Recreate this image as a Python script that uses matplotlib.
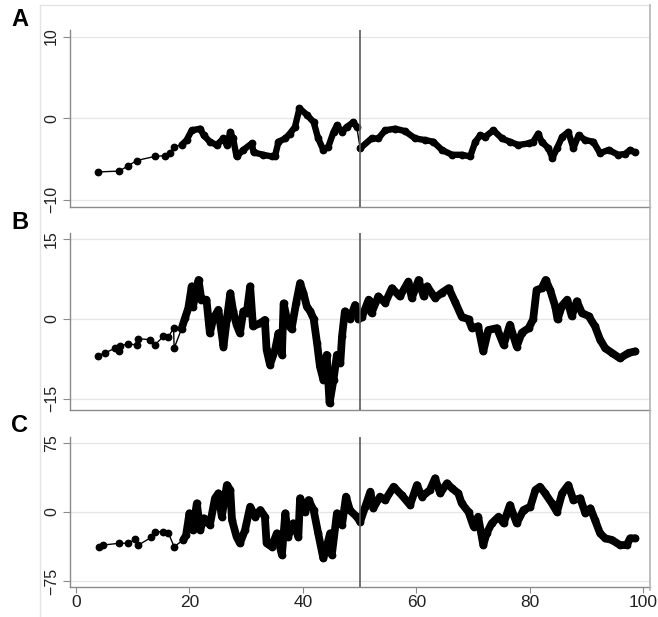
import numpy as np
import matplotlib
matplotlib.use('Agg')
import matplotlib.pyplot as plt
from matplotlib.lines import Line2D

plt.rcParams['font.family'] = ['Liberation Sans', 'DejaVu Sans']

# panel A
a_x = [3.9, 7.6, 9.2, 10.7, 13.9, 15.7, 16.6, 17.3, 18.6, 19.5, 20.4, 21.9, 22.5, 23.6, 24.8, 26.0,
       26.6, 27.2, 27.7, 28.3, 29.5, 31.0, 31.3, 33.0, 34.5, 35.1, 35.7, 36.9, 37.7, 38.6, 39.4, 40.7,
       41.9, 42.7, 43.6, 44.5, 45.4, 46.0, 46.9, 47.7, 48.9, 49.5, 50.1, 52.1, 53.3, 54.5, 56.3, 58.0,
       59.8, 61.6, 63.0, 64.5, 66.3, 68.0, 69.5, 70.4, 71.3, 72.1, 73.6, 75.1, 76.5, 78.0, 79.8, 80.6,
       81.5, 82.1, 83.3, 84.0, 84.8, 85.7, 86.8, 87.7, 88.6, 89.8, 91.2, 92.4, 93.9, 95.6, 96.8, 97.7, 98.5]
a_y = [-6.6, -6.5, -5.85, -5.2, -4.7, -4.6, -4.3, -3.5, -3.3, -2.7, -1.5, -1.3, -2.1, -2.9, -3.3, -2.5,
       -3.3, -1.7, -2.5, -4.7, -3.9, -3.1, -4.2, -4.5, -4.7, -4.6, -2.9, -2.5, -1.9, -1.1, 1.2, 0.4,
       -0.5, -2.5, -3.9, -3.5, -1.7, -0.9, -1.7, -1.1, -0.5, -1.1, -3.7, -2.5, -2.5, -1.5, -1.3, -1.6,
       -2.5, -2.7, -2.9, -3.9, -4.5, -4.5, -4.7, -2.9, -2.1, -2.3, -1.5, -2.5, -2.9, -3.3, -3.1, -2.9,
       -1.9, -2.9, -3.7, -4.9, -3.7, -2.3, -1.7, -3.7, -2.1, -2.7, -2.9, -4.3, -3.9, -4.5, -4.4, -3.9, -4.2]

# panel B
b_x = [3.9, 5.1, 6.9, 7.6, 7.7, 9.2, 10.7, 11.0, 13.1, 13.9,
       15.4, 16.3, 17.2, 17.3, 18.6, 19.2, 19.8, 20.4, 20.6, 21.6,
       22.1, 23.0, 23.6, 24.2, 25.1, 26.0, 26.6, 27.2, 27.7, 28.3,
       28.9, 29.5, 30.1, 30.7, 31.2, 32.5, 33.3, 33.6, 34.2, 35.1,
       35.7, 36.3, 36.6, 37.4, 38.0, 38.8, 39.5, 40.1, 40.7, 41.3,
       41.9, 42.5, 43.0, 43.6, 44.2, 44.7, 45.4, 46.0, 46.6, 46.9,
       47.4, 48.3, 49.2, 49.8, 50.4, 51.6, 52.1, 53.3, 54.5, 55.7,
       57.1, 58.6, 59.2, 60.4, 61.3, 61.9, 63.3, 64.5, 65.7, 66.8,
       68.0, 69.2, 69.8, 70.9, 71.8, 72.7, 74.2, 75.4, 76.5, 77.7,
       78.6, 79.8, 80.6, 81.2, 82.1, 82.8, 83.6, 84.5, 84.9, 85.7,
       86.6, 87.4, 88.3, 89.2, 90.4, 91.5, 92.4, 93.3, 94.5, 95.9,
       97.4, 98.6]
b_y = [-6.9, -6.4, -5.5, -6.1, -5.1, -4.7, -4.9, -3.75, -3.9, -4.9,
       -3.3, -3.4, -1.75, -5.5, -1.9, 0.1, 2.0, 6.1, 2.2, 7.3,
       3.6, 3.6, -2.7, 0.0, 1.7, -5.2, 0.0, 4.8, 1.5, -1.1,
       -2.7, 1.4, 1.1, 6.1, -1.4, -0.8, -0.2, -5.8, -8.6, -5.8,
       -2.7, -6.75, 2.9, -1.1, -1.9, 2.9, 6.7, 4.8, 2.3, 1.4,
       0.0, -4.6, -8.9, -11.4, -6.75, -15.8, -11.4, -6.75, -8.3, -3.3,
       1.4, 0.0, 2.6, 0.0, 0.3, 3.6, 1.1, 4.2, 3.0, 5.75,
       4.2, 7.0, 3.9, 7.3, 4.2, 6.1, 3.9, 4.9, 5.75, 3.25,
       0.4, -0.1, -1.75, -1.4, -6.1, -2.1, -1.75, -4.9, -1.1, -5.2,
       -2.6, -1.75, -0.1, 5.4, 5.75, 7.3, 5.4, 2.3, -0.1, 2.5,
       3.6, 0.5, 3.3, 1.1, 0.5, -1.4, -3.9, -5.5, -6.4, -7.4,
       -6.4, -6.1]

# panel C
c_x = [4.1, 4.8, 7.6, 9.2, 10.4, 11.0, 13.3, 13.9, 15.4, 16.3,
       17.3, 18.9, 19.4, 20.0, 20.6, 21.3, 21.9, 22.5, 23.6, 24.5,
       25.1, 25.7, 26.6, 27.2, 27.5, 28.3, 28.9, 29.8, 30.7, 31.6,
       32.5, 33.3, 33.6, 34.5, 35.4, 36.3, 36.9, 37.4, 38.3, 39.2,
       39.5, 40.4, 41.0, 41.9, 42.7, 43.6, 44.2, 44.8, 45.1, 46.0,
       46.9, 47.6, 48.3, 49.5, 50.1, 51.0, 51.9, 52.4, 53.6, 54.5,
       56.0, 57.4, 58.9, 60.1, 61.0, 62.4, 63.3, 64.2, 65.4, 66.3,
       67.4, 68.0, 69.2, 70.1, 70.9, 71.8, 72.4, 73.3, 74.5, 75.4,
       76.5, 77.7, 78.9, 80.1, 81.0, 81.8, 82.7, 83.9, 84.8, 85.7,
       86.8, 87.7, 88.9, 89.8, 90.7, 91.5, 92.4, 93.3, 94.5, 95.9,
       97.1, 97.7, 98.6]
c_y = [-37.7, -35.9, -34, -34, -29.7, -35.9, -27.5, -21.4, -21.4, -23.2,
       -37.7, -30.4, -25.4, -1.4, -19.6, 9.4, -19.6, -6.9, -14.1, 14.9,
       20.3, -5.1, 29.3, 23.9, -8.7, -26.8, -34, -19.6, 5.8, -5.1,
       2.2, -5.1, -34, -37.7, -23.2, -46.7, -1.4, -26.8, -12.3, -26.8,
       14.9, 0.0, 13.0, 1.8, -23.2, -50.3, -37.7, -23.2, -46.7, -1.4,
       -14.1, 16.7, 1.8, -5.1, -10.5, 5.8, 22.1, 4.0, 16.7, 12.9,
       27.5, 18.5, 7.6, 29.3, 16.7, 23.9, 36.6, 20.3, 31.2, 25.7,
       20.3, 9.4, 0.0, -15.9, -5.1, -35.9, -23.2, -12.3, -5.1, -12.3,
       7.6, -12.3, 2.2, 5.8, 23.9, 27.5, 20.3, 9.4, 0.0, 20.3,
       29.3, 12.9, 14.9, -1.4, 4.0, -8.7, -23.2, -28.6, -30.4, -35.9,
       -35.9, -28.6, -28.6]

panels = ['A', 'B', 'C']
yticks = [[-10, 0, 10], [-15, 0, 15], [-75, 0, 75]]
ylims = [(-10.9, 10.8), (-17.1, 16.1), (-81.5, 81.5)]
xticks = [0, 20, 40, 60, 80, 100]

W, H = 658, 617
fig = plt.figure(figsize=(W / 100, H / 100), dpi=100)

# axes boxes in pixels: top, bottom
boxes = [(30, 207), (233, 410), (437, 587)]
left, right = 70, 650
heavy = [4.6, 5.6, 5.6]

series = [(a_x, a_y), (b_x, b_y), (c_x, c_y)]
grid_c = '#e6e6e6'
axis_c = '#8a8a8a'

for i, (name, (xs, ys)) in enumerate(zip(panels, series)):
    top, bot = boxes[i]
    ax = fig.add_axes([left / W, 1 - bot / H, (right - left) / W, (bot - top) / H])
    xs = np.array(xs)
    ys = np.array(ys)

    # thin connecting line + markers for all observations
    ax.plot(xs, ys, color='black', lw=1.0, zorder=3)
    ax.plot(xs, ys, 'o', color='black', ms=4.6, mec='black', zorder=4)
    # dense part drawn as a heavy trace, split at the break year
    dense = xs >= 18.5
    for seg in (dense & (xs < 50), dense & (xs >= 50)):
        ax.plot(xs[seg], ys[seg], color='black', lw=heavy[i],
                solid_capstyle='round', solid_joinstyle='round', zorder=4)
    if i > 0:
        # B and C are continuous across the break
        j = np.where(xs < 50)[0][-1]
        ax.plot(xs[j:j + 2], ys[j:j + 2], color='black', lw=heavy[i],
                solid_capstyle='round', zorder=4)

    ax.axvline(50, color='#5a5a5a', lw=1.2, zorder=5)

    ax.set_xlim(-1.06, 101.2)
    ax.set_ylim(*ylims[i])
    ax.set_yticks(yticks[i])
    ax.set_yticklabels([str(t).replace('-', '\u2212') for t in yticks[i]],
                       rotation=90, va='center', fontsize=11.5, color='#222222')
    for yt in yticks[i]:
        ax.axhline(yt, color=grid_c, lw=1.0, zorder=1)

    for s in ['top', 'right']:
        ax.spines[s].set_visible(False)
    for s in ['left', 'bottom']:
        ax.spines[s].set_color(axis_c)
        ax.spines[s].set_linewidth(1.0)
    ax.tick_params(axis='y', length=5, color=axis_c, pad=3)
    if i == 2:
        ax.set_xticks(xticks)
        ax.set_xticklabels([str(t) for t in xticks], fontsize=12.5, color='#222222')
        ax.tick_params(axis='x', length=4, color=axis_c, pad=2)
    else:
        ax.set_xticks([])

    fig.text(20 / W, 1 - (top - 11) / H, name, ha='center', va='center',
             fontsize=17, fontweight='bold')

# outer frame of the combined graph
fig.add_artist(Line2D([40 / W, 40 / W], [1 - 5 / H, 0], color='#e4e4e4', lw=1.0))
fig.add_artist(Line2D([40 / W, 650 / W], [1 - 5 / H, 1 - 5 / H], color='#e4e4e4', lw=1.0))
fig.add_artist(Line2D([650 / W, 650 / W], [1 - 5 / H, 1 - 590 / H], color='#b4b4b4', lw=1.2))

fig.savefig('out.png', dpi=100)
